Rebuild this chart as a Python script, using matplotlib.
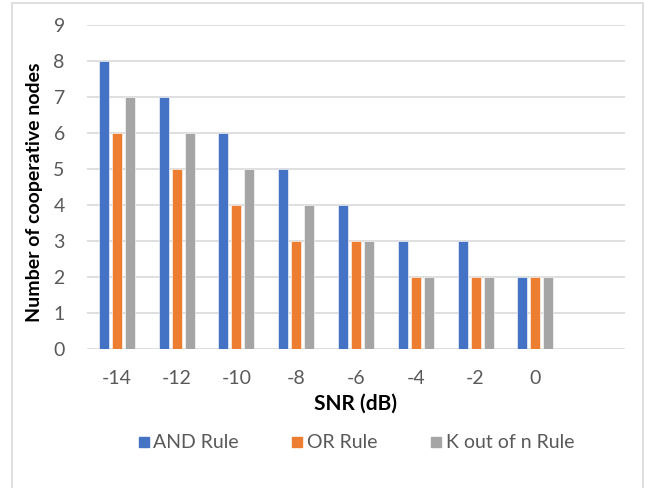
import matplotlib.pyplot as plt
import matplotlib.patches as mpatches
from matplotlib.lines import Line2D
import numpy as np

plt.rcParams['font.family'] = ['Lato', 'DejaVu Sans']

snr = ['-14', '-12', '-10', '-8', '-6', '-4', '-2', '0']
and_rule = [8, 7, 6, 5, 4, 3, 3, 2]
or_rule = [6, 5, 4, 3, 3, 2, 2, 2]
k_out_of_n = [7, 6, 5, 4, 3, 2, 2, 2]

series = [('AND Rule', and_rule, '#4472C4'),
          ('OR Rule', or_rule, '#ED7D31'),
          ('K out of n Rule', k_out_of_n, '#A5A5A5')]

fig = plt.figure(figsize=(6.45, 4.88), dpi=100)
# outer chart frame
fig.patches.append(mpatches.Rectangle((12/645, -0.1), 631/645, 1 - 3/488 + 0.1,
                                      transform=fig.transFigure, fill=False,
                                      edgecolor='#D9D9D9', linewidth=1.2))

ax = fig.add_axes([87/645, 1 - 349/488, 538/645, 324/488])
x = np.arange(len(snr))
w = 0.167
step = 0.217
for i, (name, vals, col) in enumerate(series):
    ax.bar(x + (i - 1) * step, vals, w, color=col, label=name,
           edgecolor='white', linewidth=0.4, zorder=3)

ax.set_xlim(-0.5, 8.5)
ax.set_ylim(0, 9)
ax.set_yticks(range(0, 10))
ax.set_xticks(x)
ax.set_xticklabels(snr)
for s in ax.spines.values():
    s.set_visible(False)
ax.grid(axis='y', color='#D9D9D9', linewidth=1.2, zorder=0)
ax.tick_params(length=0, labelsize=14, labelcolor='#595959')
ax.tick_params(axis='x', pad=15)
ax.tick_params(axis='y', pad=16)

ax.set_ylabel('Number of cooperative nodes', fontsize=14, fontweight='bold', va='center')
ax.yaxis.set_label_coords(-0.0985, 0.485)
ax.set_xlabel('SNR (dB)', fontsize=15, fontweight='bold', va='center')
ax.xaxis.set_label_coords(0.5, -0.17)

# square legend keys
handles = [Line2D([], [], marker='s', linestyle='none', markersize=7.5,
                  markerfacecolor=col, markeredgecolor=col, label=name)
           for name, _, col in series]
fig.legend(handles=handles, loc='center', bbox_to_anchor=(356/645, 1 - 443/488),
           ncol=3, frameon=False, fontsize=14, labelcolor='#595959',
           handlelength=0.6, handletextpad=0.2, columnspacing=2.7)

fig.savefig('out.png', dpi=100)
